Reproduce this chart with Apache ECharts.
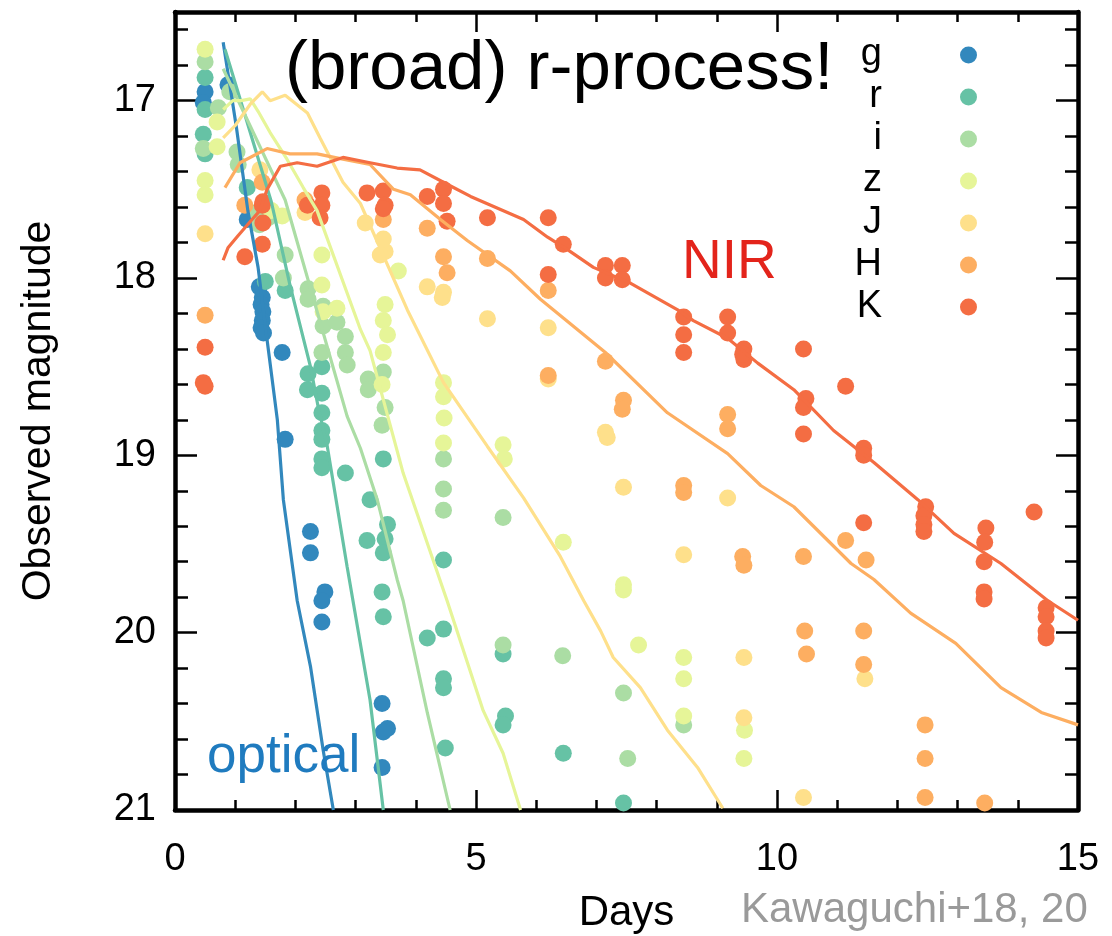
<!DOCTYPE html>
<html><head><meta charset="utf-8">
<script src="https://cdn.jsdelivr.net/npm/echarts@6/dist/echarts.min.js"></script>
<style>html,body{margin:0;padding:0;background:#fff}#c{width:1112px;height:936px}</style>
</head><body><div id="c"></div>
<script>
const bands = ['g','r','i','z','J','H','K'];
const bandColors = ['#3288bd','#66c2a5','#abdda4','#e6f598','#fee08b','#fdae61','#f46d43'];
const xTicks = [0, 5, 10, 15];
const yTicks = [17, 18, 19, 20, 21];

// observed points [day, magnitude]
const obs_g = [[0.50,16.95],[0.47,17.01],[0.88,16.91],[1.20,17.67],
  [1.40,18.05],[1.45,18.11],[1.43,18.15],[1.46,18.19],[1.45,18.24],[1.43,18.28],[1.47,18.31],
  [1.78,18.42],[1.83,18.91],[2.25,19.43],[2.25,19.55],[2.49,19.77],[2.44,19.82],[2.44,19.94],
  [3.44,20.40],[3.53,20.54],[3.46,20.56],[3.44,20.76]];
const obs_r = [[0.50,16.87],[0.50,17.05],[0.47,17.19],[0.50,17.30],[1.20,17.49],[1.50,18.02],[1.83,18.07],
  [2.44,18.50],[2.21,18.54],[2.20,18.63],[2.44,18.65],[2.44,18.76],[2.44,18.86],[2.44,18.91],[2.44,19.02],[2.44,19.07],[2.83,19.10],
  [3.46,19.02],[3.24,19.25],[3.53,19.39],[3.49,19.47],[3.19,19.48],[3.46,19.55],[3.44,19.77],[3.46,19.91],
  [4.19,20.03],[4.46,19.98],[4.46,20.26],[4.46,20.31],[4.49,20.65],[4.46,19.59],
  [5.45,20.12],[5.49,20.47],[5.45,20.52],[6.45,20.68],[7.45,20.96]];
const obs_i = [[0.50,16.78],[0.47,17.27],[0.72,17.04],[0.91,16.95],[1.03,17.29],[1.05,17.36],
  [1.36,17.63],[1.45,17.64],[1.55,17.66],[1.40,17.70],[1.83,17.87],[1.80,18.00],
  [2.21,18.06],[2.21,18.12],[2.46,18.16],[2.46,18.27],[2.69,18.25],[2.83,18.33],[2.83,18.42],[2.86,18.49],[2.44,18.42],
  [3.21,18.57],[3.21,18.63],[3.46,18.53],[3.49,18.73],[3.44,18.83],
  [4.46,19.02],[4.46,19.19],[4.46,19.31],[5.45,19.35],[5.45,20.07],[6.44,20.13],
  [7.45,20.34],[7.52,20.71],[8.45,20.52]];
const obs_z = [[0.50,16.71],[0.50,17.45],[0.50,17.53],[0.70,17.12],[0.70,17.26],[1.60,17.62],[1.78,17.65],
  [2.44,17.87],[2.44,18.04],[2.46,18.19],[2.69,18.17],
  [3.49,18.15],[3.46,18.24],[3.53,18.32],[3.46,18.42],[3.44,18.60],[3.71,17.96],
  [4.46,18.59],[4.46,18.67],[4.47,18.79],[4.46,18.93],[5.45,18.94],[5.47,19.02],[6.45,19.49],
  [7.45,19.73],[7.45,19.76],[7.70,20.07],[8.45,20.14],[8.45,20.26],[8.45,20.47],[9.46,20.55],[9.45,20.71]];
const obs_J = [[0.50,17.75],[1.41,17.39],[2.16,17.63],[3.16,17.69],[3.46,17.78],[3.49,17.85],[3.41,17.87],
  [4.19,18.05],[4.46,18.08],[4.44,18.11],[5.19,18.23],[6.20,18.28],[6.20,18.57],[7.15,18.87],[7.18,18.90],
  [7.45,19.18],[8.45,19.56],[9.18,19.24],[9.45,20.14],[9.45,20.48],[10.44,20.93],[11.46,20.26]];
const obs_H = [[0.50,18.21],[1.16,17.59],[1.45,17.46],[2.16,17.56],[3.46,17.67],
  [4.19,17.72],[4.46,17.88],[4.52,17.97],[5.19,17.89],[6.20,18.07],[6.20,18.55],
  [7.15,18.47],[7.45,18.69],[7.43,18.74],[8.45,19.17],[8.45,19.21],[9.18,18.77],[9.18,18.85],
  [9.43,19.57],[9.45,19.62],[10.44,19.57],[10.46,19.99],[10.49,20.12],
  [11.14,19.48],[11.48,19.59],[11.44,19.99],[11.44,20.18],
  [12.46,20.52],[12.46,20.71],[12.46,20.93],[13.45,20.96]];
const obs_K = [[0.50,18.39],[0.47,18.59],[0.50,18.61],[1.16,17.88],
  [1.46,17.57],[1.45,17.59],[1.46,17.69],[1.45,17.81],
  [2.20,17.59],[2.44,17.52],[2.44,17.59],[2.41,17.66],
  [3.19,17.52],[3.46,17.51],[3.49,17.59],[3.46,17.61],
  [4.19,17.54],[4.46,17.50],[4.46,17.58],[4.52,17.68],[5.19,17.66],
  [6.20,17.66],[6.45,17.81],[6.20,17.98],
  [7.15,17.93],[7.15,18.00],[7.43,17.93],[7.43,18.01],
  [8.45,18.22],[8.45,18.32],[8.45,18.42],
  [9.18,18.22],[9.18,18.31],[9.45,18.40],[9.45,18.46],[9.43,18.43],
  [10.44,18.40],[10.48,18.68],[10.44,18.73],[10.44,18.88],[11.14,18.61],
  [11.44,18.96],[11.44,19.00],[11.44,19.38],
  [12.47,19.29],[12.44,19.34],[12.44,19.39],[12.44,19.43],
  [13.47,19.41],[13.45,19.49],[13.44,19.60],[13.44,19.77],[13.44,19.81],
  [14.27,19.32],[14.47,19.86],[14.47,19.91],[14.47,19.99],[14.47,20.03]];

// model curves [day, magnitude]
const model_g = [[0.80,16.67],[1.02,17.15],[1.21,17.62],[1.38,17.94],[1.53,18.35],[1.70,18.80],[1.80,19.25],[2.03,19.82],[2.25,20.19],[2.46,20.66],[2.63,21.0]];
const model_r = [[0.83,16.71],[1.60,17.57],[1.91,18.04],[2.25,18.50],[2.38,18.73],[2.53,18.95],[2.86,19.63],[3.24,20.38],[3.46,21.0]];
const model_i = [[0.80,16.82],[1.83,17.56],[2.86,18.78],[3.08,18.96],[3.36,19.25],[3.69,19.70],[3.79,19.82],[4.19,20.45],[4.57,21.0]];
const model_z = [[0.80,17.05],[0.96,17.00],[1.10,17.00],[1.25,16.99],[1.38,17.06],[1.58,17.18],[1.86,17.33],[2.13,17.49],[2.36,17.62],[3.08,18.29],[3.24,18.41],[3.79,19.10],[4.52,19.82],[5.12,20.44],[5.45,20.68],[5.74,21.0]];
const model_J = [[0.80,17.21],[1.00,17.14],[1.25,17.02],[1.45,16.95],[1.58,17.00],[1.83,16.97],[2.20,17.07],[2.41,17.21],[2.79,17.46],[3.08,17.58],[3.86,18.18],[4.46,18.59],[5.19,18.95],[5.79,19.24],[6.40,19.57],[6.79,19.82],[7.07,19.99],[7.28,20.14],[7.73,20.31],[8.18,20.55],[8.68,20.76],[9.10,20.99]];
const model_H = [[0.83,17.49],[1.08,17.35],[1.53,17.27],[1.91,17.30],[2.36,17.30],[2.79,17.33],[3.24,17.36],[3.63,17.50],[3.91,17.53],[4.41,17.67],[4.86,17.79],[5.57,17.96],[6.07,18.12],[7.15,18.42],[8.18,18.76],[9.18,18.99],[9.73,19.17],[10.28,19.29],[11.23,19.61],[11.61,19.70],[12.22,19.89],[12.97,20.06],[13.72,20.31],[14.39,20.45],[15.0,20.52]];
const model_K = [[0.80,17.90],[0.88,17.83],[1.05,17.76],[1.28,17.67],[1.41,17.62],[1.53,17.50],[1.75,17.37],[2.03,17.35],[2.36,17.37],[2.79,17.32],[3.24,17.35],[3.69,17.38],[4.07,17.39],[4.57,17.48],[4.91,17.54],[5.79,17.67],[6.19,17.77],[6.52,17.84],[6.95,17.94],[7.57,18.03],[8.35,18.18],[8.61,18.24],[9.18,18.34],[9.68,18.48],[10.28,18.63],[10.94,18.86],[11.61,19.04],[12.34,19.25],[12.94,19.44],[13.72,19.61],[14.50,19.82],[15.0,19.93]];

const obs = [obs_g, obs_r, obs_i, obs_z, obs_J, obs_H, obs_K];
const models = [model_g, model_r, model_i, model_z, model_J, model_H, model_K];

const FONT = 'Liberation Sans, Arial, Helvetica, sans-serif';
const chart = echarts.init(document.getElementById('c'), null, {renderer: 'canvas'});

const series = [];
bands.forEach((b, k) => {
  series.push({name: b, type: 'scatter', xAxisIndex: 0, yAxisIndex: 0, data: obs[k],
    symbol: 'circle', symbolSize: 17, itemStyle: {color: bandColors[k], opacity: 1}, z: 2, silent: true});
});
bands.forEach((b, k) => {
  series.push({name: b + ' model', type: 'line', xAxisIndex: 0, yAxisIndex: 0, data: models[k],
    showSymbol: false, symbol: 'none', lineStyle: {color: bandColors[k], width: 3.2}, itemStyle: {color: bandColors[k]}, z: 3, silent: true});
});

const axLine = {show: true, onZero: false, lineStyle: {color: '#000', width: 4.5}};
const tickStyle = {color: '#000', width: 2.5};
const plotH = 936 - 12 - 126;
const pxPerMag = plotH / 4.5;

const option = {
  animation: false,
  backgroundColor: '#fff',
  textStyle: {fontFamily: FONT},
  grid: [
    {left: 175, right: 34, top: 12, bottom: 126, containLabel: false, outerBoundsMode: 'none'},
    {left: 175, right: 34, top: 12 - 0.1 * pxPerMag, bottom: 126, containLabel: false, outerBoundsMode: 'none', show: false}
  ],
  title: [
    {text: '(broad) r-process!', left: 285, top: 35, padding: 0, textStyle: {fontFamily: FONT, fontSize: 69, fontWeight: 'normal', color: '#000'}},
    {text: 'NIR', left: 682, top: 235, padding: 0, textStyle: {fontFamily: FONT, fontSize: 55, fontWeight: 'normal', color: '#e3241b'}},
    {text: 'optical', left: 207, top: 731, padding: 0, textStyle: {fontFamily: FONT, fontSize: 53, fontWeight: 'normal', color: '#1f7bbf'}},
    {text: 'Kawaguchi+18, 20', left: 741, top: 889, padding: 0, textStyle: {fontFamily: FONT, fontSize: 42, fontWeight: 'normal', color: '#9a9a9a'}}
  ],
  legend: {
    data: bands.map(b => ({name: b, icon: 'circle'})),
    orient: 'vertical', left: 852, top: 36, align: 'right', padding: 0,
    itemWidth: 17, itemHeight: 17, itemGap: 4, selectedMode: false,
    textStyle: {fontFamily: FONT, fontSize: 38, color: '#000', width: 30, align: 'right', lineHeight: 38, padding: [0, 73, 0, 0]}
  },
  xAxis: [
    {gridIndex: 0, type: 'value', min: xTicks[0], max: xTicks[xTicks.length - 1], interval: 5, position: 'bottom',
      axisLine: axLine, axisTick: {show: true, inside: true, length: 20, lineStyle: tickStyle},
      minorTick: {show: true, splitNumber: 5, length: 10, lineStyle: tickStyle},
      splitLine: {show: false}, minorSplitLine: {show: false},
      axisLabel: {fontFamily: FONT, fontSize: 38, color: '#000', margin: 31},
      name: 'Days', nameLocation: 'middle', nameGap: 82, nameTextStyle: {fontFamily: FONT, fontSize: 42, color: '#000'}},
    {gridIndex: 0, type: 'value', min: xTicks[0], max: xTicks[xTicks.length - 1], interval: 5, position: 'top',
      axisLine: axLine, axisTick: {show: true, inside: true, length: 20, lineStyle: tickStyle},
      minorTick: {show: true, splitNumber: 5, length: 10, lineStyle: tickStyle},
      splitLine: {show: false}, axisLabel: {show: false}},
    {gridIndex: 1, type: 'value', min: 0, max: 15, show: false}
  ],
  yAxis: [
    {gridIndex: 0, type: 'value', min: 16.5, max: yTicks[yTicks.length - 1], inverse: true, position: 'left',
      axisLine: axLine, axisTick: {show: true, inside: true, length: 22, lineStyle: tickStyle},
      minorTick: {show: false}, splitLine: {show: false},
      axisLabel: {fontFamily: FONT, fontSize: 38, color: '#000', margin: 19,
        formatter: v => (yTicks.indexOf(Math.round(v * 1000) / 1000) >= 0 ? String(Math.round(v)) : '')},
      name: 'Observed magnitude', nameLocation: 'middle', nameGap: 116, nameRotate: 90,
      nameTextStyle: {fontFamily: FONT, fontSize: 41, color: '#000'}},
    {gridIndex: 0, type: 'value', min: 16.5, max: yTicks[yTicks.length - 1], inverse: true, position: 'right',
      axisLine: axLine, axisTick: {show: true, inside: true, length: 22, lineStyle: tickStyle},
      minorTick: {show: false}, splitLine: {show: false}, axisLabel: {show: false}},
    {gridIndex: 1, type: 'value', min: 16.4, max: 21, interval: 0.2, inverse: true, position: 'left',
      axisLine: {show: false}, axisTick: {show: true, inside: true, length: 13, lineStyle: tickStyle},
      splitLine: {show: false}, axisLabel: {show: false}},
    {gridIndex: 1, type: 'value', min: 16.4, max: 21, interval: 0.2, inverse: true, position: 'right',
      axisLine: {show: false}, axisTick: {show: true, inside: true, length: 13, lineStyle: tickStyle},
      splitLine: {show: false}, axisLabel: {show: false}}
  ],
  series: series
};
chart.setOption(option);
</script>
</body></html>
